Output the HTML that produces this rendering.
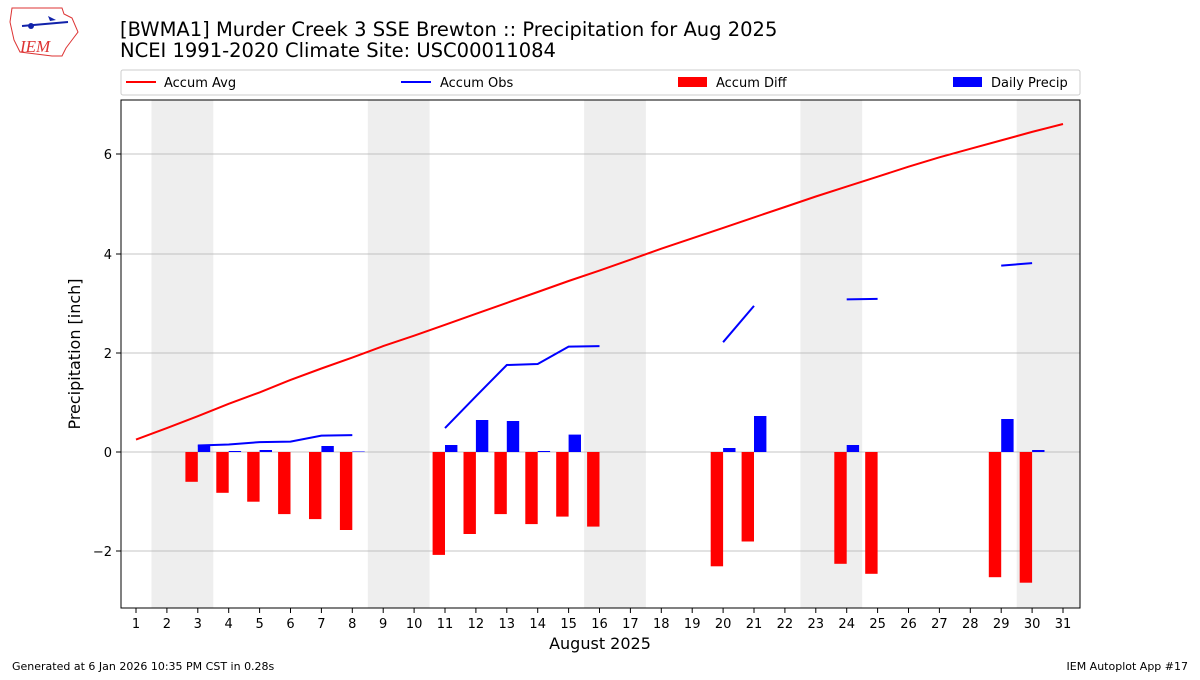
<!DOCTYPE html>
<html><head><meta charset="utf-8"><style>
body{margin:0;background:#fff;}
svg text{font-family:"DejaVu Sans","Liberation Sans",sans-serif;}
</style></head><body>
<svg width="1200" height="675" viewBox="0 0 1200 675" xmlns="http://www.w3.org/2000/svg">
<rect width="1200" height="675" fill="#fff"/>
<g>
<path d="M12,8 L62,8 L64,14 L72,18 L78,32 L72,40 L66,48 L62,56 L52,56 L20,52 L14,40 L10,22 Z" fill="#fff" stroke="#d33" stroke-width="1"/>
<line x1="22" y1="26" x2="68" y2="22" stroke="#12a" stroke-width="2"/>
<circle cx="31" cy="26" r="3" fill="#12a"/>
<path d="M48,16 L56,20 L50,21 Z" fill="#12a"/>
<text x="20" y="52" font-size="17" font-style="italic" fill="#d33" style="font-family:'Liberation Serif',serif">IEM</text>
</g>
<text x="120" y="36" font-size="19.5">[BWMA1] Murder Creek 3 SSE Brewton :: Precipitation for Aug 2025</text>
<text x="120" y="57" font-size="19.5">NCEI 1991-2020 Climate Site: USC00011084</text>
<rect x="121" y="70" width="959" height="25" fill="#fff" stroke="#ccc" rx="2"/>
<line x1="126" y1="82" x2="156" y2="82" stroke="red" stroke-width="2"/>
<text x="164" y="87" font-size="13">Accum Avg</text>
<line x1="401" y1="82" x2="431" y2="82" stroke="blue" stroke-width="2"/>
<text x="440" y="87" font-size="13">Accum Obs</text>
<rect x="678" y="77" width="29" height="10" fill="red"/>
<text x="716" y="87" font-size="13">Accum Diff</text>
<rect x="953" y="77" width="29" height="10" fill="blue"/>
<text x="991" y="87" font-size="13">Daily Precip</text>
<g fill="#eee">
<rect x="151.5" y="100" width="61.8" height="508"/>
<rect x="367.8" y="100" width="61.8" height="508"/>
<rect x="584.1" y="100" width="61.8" height="508"/>
<rect x="800.4" y="100" width="61.8" height="508"/>
<rect x="1016.7" y="100" width="63.3" height="508"/>
</g>
<g stroke="#b0b0b0" stroke-width="0.8">
<line x1="121" y1="154" x2="1080" y2="154"/>
<line x1="121" y1="254" x2="1080" y2="254"/>
<line x1="121" y1="353" x2="1080" y2="353"/>
<line x1="121" y1="452" x2="1080" y2="452"/>
<line x1="121" y1="551" x2="1080" y2="551"/>
</g>
<g fill="red">
<rect x="185.4" y="452" width="12.4" height="29.8"/>
<rect x="216.3" y="452" width="12.4" height="40.8"/>
<rect x="247.2" y="452" width="12.4" height="49.7"/>
<rect x="278.1" y="452" width="12.4" height="62.1"/>
<rect x="309" y="452" width="12.4" height="67.1"/>
<rect x="339.9" y="452" width="12.4" height="78"/>
<rect x="432.6" y="452" width="12.4" height="102.9"/>
<rect x="463.5" y="452" width="12.4" height="82"/>
<rect x="494.4" y="452" width="12.4" height="62.1"/>
<rect x="525.3" y="452" width="12.4" height="72.1"/>
<rect x="556.2" y="452" width="12.4" height="64.6"/>
<rect x="587.1" y="452" width="12.4" height="74.6"/>
<rect x="710.7" y="452" width="12.4" height="114.3"/>
<rect x="741.6" y="452" width="12.4" height="89.5"/>
<rect x="834.3" y="452" width="12.4" height="111.8"/>
<rect x="865.2" y="452" width="12.4" height="121.8"/>
<rect x="988.8" y="452" width="12.4" height="125.2"/>
<rect x="1019.7" y="452" width="12.4" height="130.7"/>
</g>
<g fill="blue">
<rect x="197.8" y="445.5" width="12.4" height="6.5"/>
<rect x="228.7" y="451" width="12.4" height="1"/>
<rect x="259.6" y="450" width="12.4" height="2"/>
<rect x="321.4" y="446" width="12.4" height="6"/>
<rect x="352.3" y="451.5" width="12.4" height="0.5"/>
<rect x="445" y="445" width="12.4" height="7"/>
<rect x="475.9" y="420" width="12.4" height="32"/>
<rect x="506.8" y="421" width="12.4" height="31"/>
<rect x="537.7" y="451" width="12.4" height="1"/>
<rect x="568.6" y="434.6" width="12.4" height="17.4"/>
<rect x="723.1" y="448" width="12.4" height="4"/>
<rect x="754" y="416" width="12.4" height="36"/>
<rect x="846.7" y="445" width="12.4" height="7"/>
<rect x="1001.2" y="419" width="12.4" height="33"/>
<rect x="1032.1" y="450" width="12.4" height="2"/>
</g>
<polyline fill="none" stroke="red" stroke-width="2" points="136,439.6 166.9,428.1 197.8,416.2 228.7,403.8 259.6,392.4 290.5,379.9 321.4,368.5 352.3,357.6 383.2,346.1 414.1,335.7 445,324.8 475.9,313.8 506.8,302.9 537.7,292 568.6,281 599.5,270.6 630.4,259.7 661.3,248.7 692.2,238.3 723.1,227.9 754,217.4 784.9,207 815.8,196.5 846.7,186.6 877.6,176.7 908.5,166.7 939.4,157.3 970.3,148.8 1001.2,140.4 1032.1,131.9 1063,124"/>
<g fill="none" stroke="blue" stroke-width="2">
<polyline points="197.8,445.5 228.7,444.5 259.6,442.1 290.5,441.6 321.4,435.6 352.3,435.1"/>
<polyline points="445,428.1 475.9,396.3 506.8,365 537.7,364 568.6,346.6 599.5,346.1"/>
<polyline points="723.1,342.2 754,305.9"/>
<polyline points="846.7,299.4 877.6,298.9"/>
<polyline points="1001.2,265.6 1032.1,263.1"/>
</g>
<rect x="121" y="100" width="959" height="508" fill="none" stroke="#000" stroke-width="1"/>
<g stroke="#000"><line x1="116" y1="154" x2="121" y2="154"/><line x1="116" y1="254" x2="121" y2="254"/><line x1="116" y1="353" x2="121" y2="353"/><line x1="116" y1="452" x2="121" y2="452"/><line x1="116" y1="551" x2="121" y2="551"/></g>
<g font-size="13" text-anchor="end">
<text x="112" y="159">6</text><text x="112" y="259">4</text><text x="112" y="358">2</text><text x="112" y="457">0</text><text x="112" y="556">−2</text>
</g>
<text transform="translate(80,354) rotate(-90)" font-size="16" text-anchor="middle">Precipitation [inch]</text>
<g stroke="#000">
<line x1="136" y1="608" x2="136" y2="613"/><line x1="166.9" y1="608" x2="166.9" y2="613"/><line x1="197.8" y1="608" x2="197.8" y2="613"/><line x1="228.7" y1="608" x2="228.7" y2="613"/><line x1="259.6" y1="608" x2="259.6" y2="613"/><line x1="290.5" y1="608" x2="290.5" y2="613"/><line x1="321.4" y1="608" x2="321.4" y2="613"/><line x1="352.3" y1="608" x2="352.3" y2="613"/><line x1="383.2" y1="608" x2="383.2" y2="613"/><line x1="414.1" y1="608" x2="414.1" y2="613"/><line x1="445" y1="608" x2="445" y2="613"/><line x1="475.9" y1="608" x2="475.9" y2="613"/><line x1="506.8" y1="608" x2="506.8" y2="613"/><line x1="537.7" y1="608" x2="537.7" y2="613"/><line x1="568.6" y1="608" x2="568.6" y2="613"/><line x1="599.5" y1="608" x2="599.5" y2="613"/><line x1="630.4" y1="608" x2="630.4" y2="613"/><line x1="661.3" y1="608" x2="661.3" y2="613"/><line x1="692.2" y1="608" x2="692.2" y2="613"/><line x1="723.1" y1="608" x2="723.1" y2="613"/><line x1="754" y1="608" x2="754" y2="613"/><line x1="784.9" y1="608" x2="784.9" y2="613"/><line x1="815.8" y1="608" x2="815.8" y2="613"/><line x1="846.7" y1="608" x2="846.7" y2="613"/><line x1="877.6" y1="608" x2="877.6" y2="613"/><line x1="908.5" y1="608" x2="908.5" y2="613"/><line x1="939.4" y1="608" x2="939.4" y2="613"/><line x1="970.3" y1="608" x2="970.3" y2="613"/><line x1="1001.2" y1="608" x2="1001.2" y2="613"/><line x1="1032.1" y1="608" x2="1032.1" y2="613"/><line x1="1063" y1="608" x2="1063" y2="613"/>
</g>
<g font-size="13" text-anchor="middle">
<text x="136" y="628">1</text><text x="166.9" y="628">2</text><text x="197.8" y="628">3</text><text x="228.7" y="628">4</text><text x="259.6" y="628">5</text><text x="290.5" y="628">6</text><text x="321.4" y="628">7</text><text x="352.3" y="628">8</text><text x="383.2" y="628">9</text><text x="414.1" y="628">10</text><text x="445" y="628">11</text><text x="475.9" y="628">12</text><text x="506.8" y="628">13</text><text x="537.7" y="628">14</text><text x="568.6" y="628">15</text><text x="599.5" y="628">16</text><text x="630.4" y="628">17</text><text x="661.3" y="628">18</text><text x="692.2" y="628">19</text><text x="723.1" y="628">20</text><text x="754" y="628">21</text><text x="784.9" y="628">22</text><text x="815.8" y="628">23</text><text x="846.7" y="628">24</text><text x="877.6" y="628">25</text><text x="908.5" y="628">26</text><text x="939.4" y="628">27</text><text x="970.3" y="628">28</text><text x="1001.2" y="628">29</text><text x="1032.1" y="628">30</text><text x="1063" y="628">31</text>
</g>
<text x="600" y="649" font-size="16" text-anchor="middle">August 2025</text>
<text x="12" y="670" font-size="11">Generated at 6 Jan 2026 10:35 PM CST in 0.28s</text>
<text x="1188" y="670" font-size="11" text-anchor="end">IEM Autoplot App #17</text>
</svg>
</body></html>
